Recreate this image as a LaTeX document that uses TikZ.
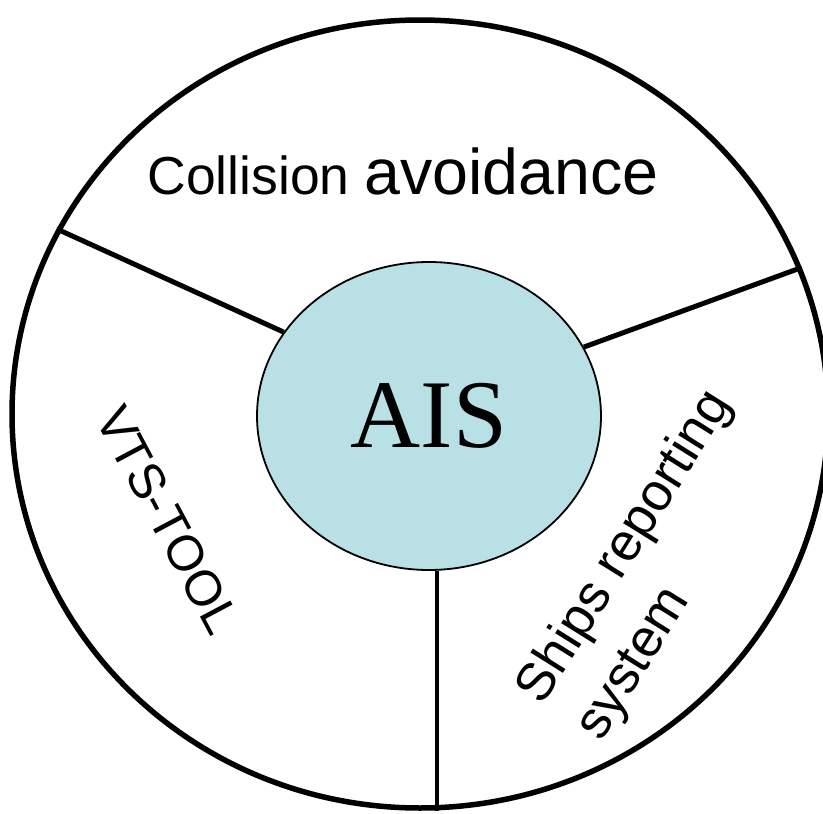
\documentclass[tikz,border=0pt]{standalone}
\usepackage{fontspec}
\setmainfont{Liberation Serif}
\newfontfamily\arialfont{Liberation Sans}
\usetikzlibrary{shapes.geometric}
\definecolor{aisfill}{RGB}{185,224,228}
\tikzset{
  ring/.style={ellipse, draw, line width=5.5pt, inner sep=0pt},
  hub/.style={ellipse, draw, line width=1.8pt, fill=aisfill, inner sep=0pt},
  spoke/.style={line width=5pt},
  label/.style={font=\arialfont, inner sep=0pt}
}
\begin{document}
\begin{tikzpicture}[x=1pt,y=-1pt]
\useasboundingbox (0,0) rectangle (823,814);
\node[ring, minimum width=816pt, minimum height=788pt] (outer) at (420,414) {};
\node[hub, minimum width=344pt, minimum height=308pt,
      font=\fontsize{97}{110}\selectfont] (inner) at (429,416) {AIS};
\draw[spoke] (inner.150) -- (outer.153);
\draw[spoke] (inner.24.5) -- (outer.21.3);
\draw[spoke, line width=4pt] (inner.-87) -- (inner.-87 |- outer.south);
\node[label, anchor=base] (ca) at (403,194)
  {\fontsize{53.5}{60}\selectfont Collision \fontsize{64.5}{72}\selectfont avoidance};
\node[label, rotate=-62, font=\arialfont\fontsize{50}{58}\selectfont] (vts) at (168,520) {VTS-TOOL};
\node[label, rotate=58, align=left, font=\arialfont\fontsize{53}{69}\selectfont] (srs) at (655,566)
  {Ships reporting\\system};
\end{tikzpicture}
\end{document}
